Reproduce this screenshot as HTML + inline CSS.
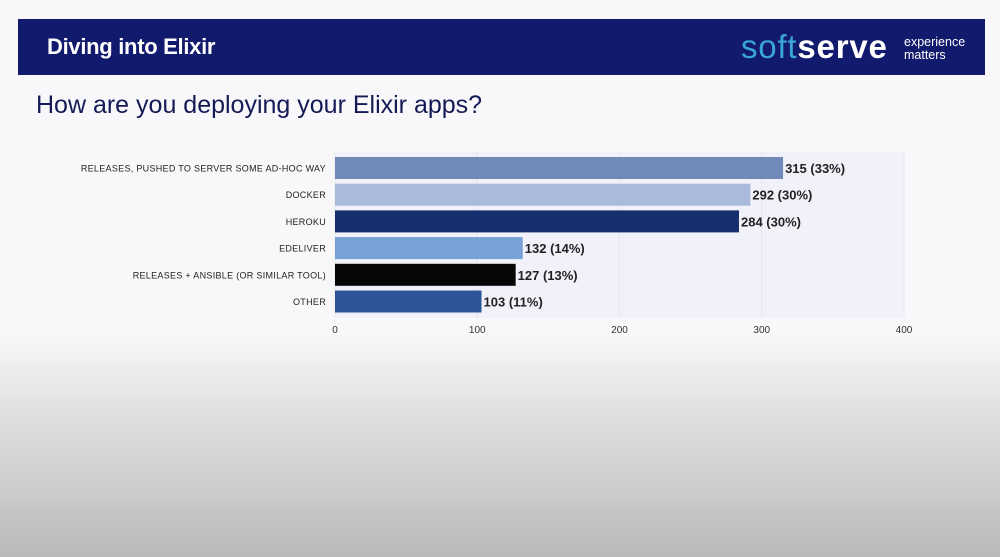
<!DOCTYPE html>
<html><head><meta charset="utf-8"><style>
html,body{margin:0;padding:0}
body{width:1000px;height:557px;position:relative;overflow:hidden;font-family:"Liberation Sans",sans-serif;
background:linear-gradient(to bottom,#f8f8fb 0px,#f8f8fa 335px,#e4e4e5 400px,#cfcfd1 480px,#b9b9bb 557px);}
#hdr{position:absolute;left:18px;top:19px;width:967px;height:56px;background:#111a6c;}
#hdr .t{position:absolute;left:29px;top:15px;color:#fff;font-size:22px;font-weight:bold;letter-spacing:-0.3px}
#logo{position:absolute;left:723px;top:9px;font-size:33px;letter-spacing:0.8px}
#logo .a{color:#3aa6d8}#logo .b{color:#fff;font-weight:bold}
#tag{position:absolute;left:886px;top:17px;color:#fff;font-size:12.5px;line-height:13px}
#q{position:absolute;left:36px;top:91px;font-size:25px;color:#141a55}
svg{position:absolute;left:0;top:0}
</style></head><body>
<div id="hdr">
<div class="t">Diving into Elixir</div>
<div id="logo"><span class="a">soft</span><span class="b">serve</span></div>
<div id="tag">experience<br>matters</div>
</div>
<div id="q">How are you deploying your Elixir apps?</div>
<svg id="chart" width="1000" height="557"></svg>
<script>
const categories=["RELEASES, PUSHED TO SERVER SOME AD-HOC WAY","DOCKER","HEROKU","EDELIVER","RELEASES + ANSIBLE (OR SIMILAR TOOL)","OTHER"];
const values=[315,292,284,132,127,103];
const percents=["33%","30%","30%","14%","13%","11%"];
const ticks=[0,100,200,300,400];
const colors=["#7189b8","#a9badb","#152f6f","#77a1d7","#060606","#2e5597"];
const NS="http://www.w3.org/2000/svg";
const svg=document.getElementById('chart');
const x0=335,x1=904,xmax=400,y0=155,pitch=26.7,bh=22;
const xs=v=>x0+(x1-x0)*v/xmax;
const ys=i=>y0+i*pitch+2;
function mk(t,a){const e=document.createElementNS(NS,t);for(const k in a)e.setAttribute(k,a[k]);svg.appendChild(e);return e;}
const bg=mk('rect',{x:x0,y:152,width:x1-x0,height:166,fill:'#f1f1fa'});


ticks.forEach(t=>{
 const g=mk('line',{x1:xs(t),x2:xs(t),y1:152,y2:318,stroke:'#e6e6ef','stroke-width':1});
 
 
 const l=mk('text',{x:xs(t),y:333,'text-anchor':'middle','font-size':10,fill:'#333'});
 l.textContent=t;
 
 
});
categories.forEach((c,i)=>{
 const y=ys(i);
 const r=mk('rect',{x:x0,y:y,width:xs(values[i])-x0,height:bh,fill:colors[i]});
 
 
 const l=mk('text',{x:326,y:y+bh/2+3.5,'text-anchor':'end','font-size':9,fill:'#222','letter-spacing':'0.3'});
 l.textContent=c;
 
 
 const v=mk('text',{x:xs(values[i])+2,y:y+bh/2+5,'font-size':13,'font-weight':'bold',fill:'#222'});
 v.textContent=values[i]+" ("+percents[i]+")";
 
 
});
</script>
</body></html>
